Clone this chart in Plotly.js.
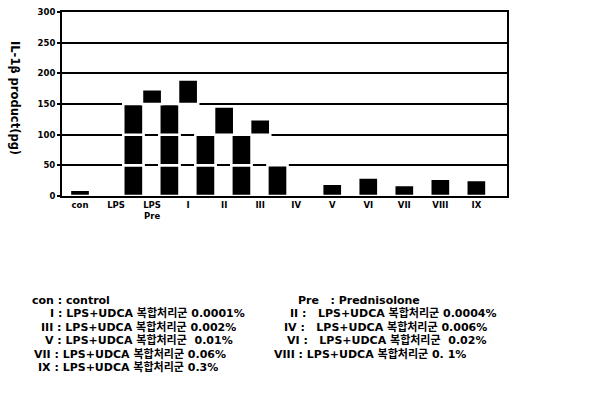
<!DOCTYPE html>
<html>
<head>
<meta charset="utf-8">
<script src="https://cdn.plot.ly/plotly-3.0.1.min.js"></script>
<style>html,body{margin:0;padding:0;background:#fff;}#chart{width:604px;height:411px;}</style>
</head>
<body>
<div id="chart"></div>
<script>
// ---- data ----
var categories = ['con', 'LPS', 'LPS<br>Pre', 'I', 'II', 'III', 'IV', 'V', 'VI', 'VII', 'VIII', 'IX'];
var values = [10, null, 174, 190, 146, 125, 50, 20, 30, 18, 28, 26];   // IL-1β (pg)
var yTicks = [0, 50, 100, 150, 200, 250, 300];
var legendLeft = [
  'con : control',
  'I : LPS+UDCA 복합처리군 0.0001%',
  'III : LPS+UDCA 복합처리군 0.002%',
  'V : LPS+UDCA 복합처리군&nbsp; 0.01%',
  'VII : LPS+UDCA 복합처리군 0.06%',
  'IX : LPS+UDCA 복합처리군 0.3%'
];
var legendRight = [
  'Pre&nbsp;&nbsp; : Prednisolone',
  'II :&nbsp;&nbsp; LPS+UDCA 복합처리군 0.0004%',
  'IV :&nbsp;&nbsp; LPS+UDCA 복합처리군 0.006%',
  'VI :&nbsp;&nbsp; LPS+UDCA 복합처리군&nbsp; 0.02%',
  'VIII : LPS+UDCA 복합처리군 0. 1%'
];

// ---- layout constants ----
var W = 604, H = 411;
var M = {l: 62, r: 97, t: 12, b: 215};
var FONT = '"DejaVu Sans", "Noto Sans CJK KR", sans-serif';
var BLOCK = 50;
var barW = 0.56;
var shift = 0.52;

function px(x) { return (x - M.l) / (W - M.l - M.r); }
function py(y) { return 1 - (y - M.t) / (H - M.t - M.b); }
function b(t) { return '<b>' + t + '</b>'; }

// ---- traces built from the values ----
var traces = [];
var nBlocks = Math.floor(Math.max.apply(null, values.filter(function(v){return v !== null;})) / BLOCK);
for (var k = 0; k < nBlocks; k++) {
  traces.push({
    type: 'bar', x: categories,
    y: values.map(function(v){ return (v !== null && v >= BLOCK * (k + 1)) ? BLOCK : null; }),
    base: BLOCK * k,
    width: barW, offset: -barW / 2 - shift,
    marker: {color: '#000', line: {color: '#fff', width: 2.5}},
    hoverinfo: 'skip', showlegend: false
  });
}
traces.push({
  type: 'bar', x: categories,
  y: values.map(function(v){ if (v === null) return null; var r = v - Math.floor(v / BLOCK) * BLOCK; return r > 0 ? r : null; }),
  base: values.map(function(v){ return v === null ? 0 : Math.floor(v / BLOCK) * BLOCK; }),
  width: barW, offset: -barW / 2,
  marker: {color: '#000', line: {color: '#fff', width: 2.5}},
  hoverinfo: 'skip', showlegend: false
});

var annotations = [{
  text: b('IL-1β product(pg)'), textangle: 90, xref: 'paper', yref: 'paper',
  x: px(15), y: py(98), showarrow: false, xanchor: 'center', yanchor: 'middle',
  font: {family: FONT, size: 11.5, color: '#000'}
}];
var leftX = [30, 48, 39, 43, 32, 36];
var rightX = [296, 288, 282, 285, 272];
var rowsY = [302, 315, 329, 342, 356, 369];
var LEG_SIZE = 11;
legendLeft.forEach(function(t, i){
  annotations.push({text: b(t), xref: 'paper', yref: 'paper', x: px(leftX[i]), y: py(rowsY[i] - 2),
    xanchor: 'left', yanchor: 'middle', showarrow: false,
    font: {family: FONT, size: LEG_SIZE, color: '#000'}});
});
legendRight.forEach(function(t, i){
  annotations.push({text: b(t), xref: 'paper', yref: 'paper', x: px(rightX[i]), y: py(rowsY[i] - 2),
    xanchor: 'left', yanchor: 'middle', showarrow: false,
    font: {family: FONT, size: LEG_SIZE, color: '#000'}});
});

var layout = {
  width: W, height: H, margin: M,
  paper_bgcolor: '#fff', plot_bgcolor: '#fff',
  barmode: 'overlay', showlegend: false,
  font: {family: FONT, color: '#000'},
  xaxis: {
    type: 'category', range: [-0.5, 11.85],
    tickvals: categories, ticktext: categories.map(b),
    showline: true, linecolor: '#000', linewidth: 2, mirror: true,
    ticks: '', showgrid: false,
    tickfont: {family: FONT, size: 8.5, color: '#000'}
  },
  yaxis: {
    range: [0, 300], tickvals: yTicks, ticktext: yTicks.map(function(v){ return b(String(v)); }),
    showline: true, linecolor: '#000', linewidth: 2, mirror: true,
    ticks: 'outside', ticklen: 3, tickwidth: 2, tickcolor: '#000',
    showgrid: true, gridcolor: '#000', gridwidth: 2, zeroline: false,
    tickfont: {family: FONT, size: 8.5, color: '#000'}
  },
  annotations: annotations
};

Plotly.newPlot('chart', traces, layout, {staticPlot: true, displayModeBar: false});
</script>
</body>
</html>
